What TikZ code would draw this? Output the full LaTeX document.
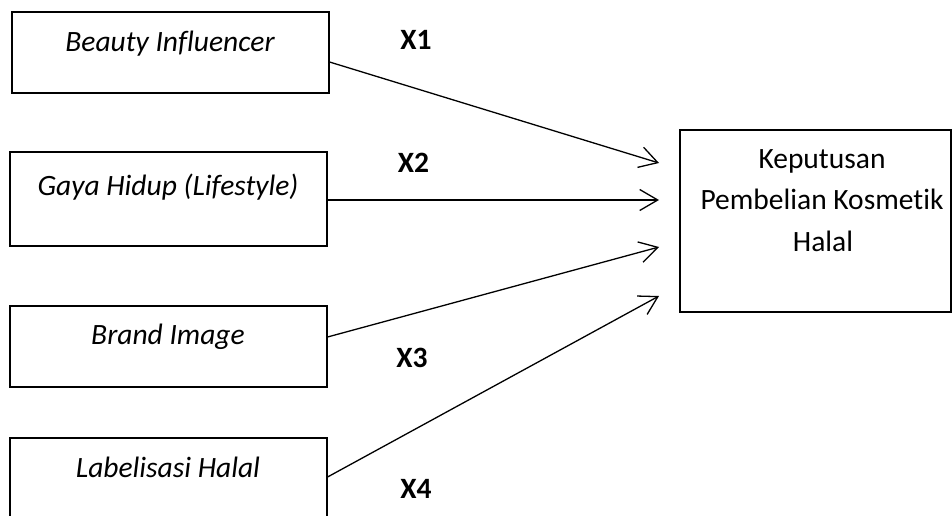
\documentclass[tikz,border=0pt]{standalone}
\usepackage{fontspec}
\setmainfont{Carlito}[Ligatures={NoCommon}]
\usetikzlibrary{arrows.meta}
\begin{document}
\begin{tikzpicture}[x=1pt,y=-1pt,
  boxstyle/.style={draw=black,line width=1.1pt,inner sep=0pt},
  arr/.style={draw=black,line width=1.3pt,-{Straight Barb[length=18pt,width=21pt,line width=1.3pt]}},
  itxt/.style={anchor=base,inner sep=0pt,font=\fontsize{29.5}{35}\selectfont\itshape},
  rtxt/.style={anchor=base,inner sep=0pt,font=\fontsize{29.5}{35}\selectfont},
  xtxt/.style={anchor=base,inner sep=0pt,font=\fontsize{29.5}{35}\selectfont\bfseries}]
\useasboundingbox (0,0) rectangle (952,516);
\clip (0,0) rectangle (952,516);
% boxes
\node[boxstyle,minimum width=317pt,minimum height=81pt] (b1) at (170.5,52.5) {};
\node[boxstyle,minimum width=317pt,minimum height=94pt] (b2) at (168.5,199) {};
\node[boxstyle,minimum width=317pt,minimum height=81pt] (b3) at (168.5,346.5) {};
\node[boxstyle,minimum width=317pt,minimum height=102pt] (b4) at (168.5,489) {};
\node[boxstyle,minimum width=271pt,minimum height=182pt] (y) at (815.5,221) {};
% texts
\node[itxt] (t1) at (170,52) {Beauty Influencer};
\node[itxt] (t2) at (168,195) {Gaya Hidup (Lifestyle)};
\node[itxt] (t3) at (168,344) {Brand Image};
\node[itxt] (t4) at (168,477) {Labelisasi Halal};
\node[rtxt] (k1) at (822,168) {Keputusan};
\node[rtxt] (k2) at (822,209) {Pembelian Kosmetik};
\node[rtxt] (k3) at (823,251) {Halal};
% labels
\node[xtxt] (x1) at (416,50) {X1};
\node[xtxt] (x2) at (413.5,172) {X2};
\node[xtxt] (x3) at (412,367) {X3};
\node[xtxt] (x4) at (416,498) {X4};
% connector endpoints
\coordinate (s1) at (b1.east |- 0,62);
\coordinate (s2) at (b2.east |- 0,200);
\coordinate (s3) at (b3.east |- 0,337);
\coordinate (s4) at (b4.east |- 0,477);
\coordinate (e1) at (659,163);
\coordinate (e2) at (659,200);
\coordinate (e3) at (659,247);
\coordinate (e4) at (659,296);
\draw[arr] (s1) -- (e1);
\draw[arr] (s2) -- (e2);
\draw[arr] (s3) -- (e3);
\draw[arr] (s4) -- (e4);
\end{tikzpicture}
\end{document}
